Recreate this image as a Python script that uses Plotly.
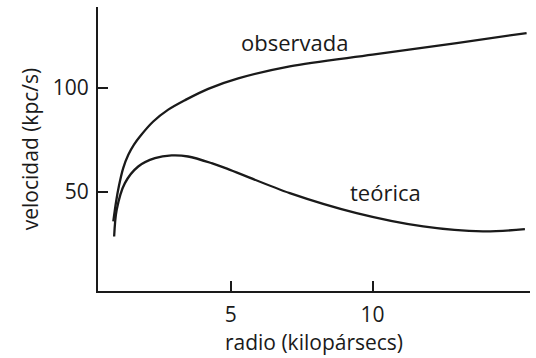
import plotly.graph_objects as go

# Data
obs_x = [0.85, 0.95, 1.05, 1.2, 1.38, 1.58, 1.79, 2.26, 2.79, 3.4, 4.2, 5.26, 7.08, 10.0, 12.97, 15.44]
obs_y = [35.9, 45.5, 53.0, 61.5, 67.9, 72.8, 76.7, 83.9, 89.6, 94.3, 99.6, 104.6, 110.4, 116.0, 121.6, 126.4]

teo_x = [0.88, 0.97, 1.26, 1.73, 2.32, 2.91, 3.49, 4.32, 4.97, 7.08, 9.44, 11.79, 13.9, 15.38]
teo_y = [28.7, 41.5, 54.3, 62.3, 66.3, 67.6, 67.1, 63.9, 60.7, 49.5, 39.9, 33.5, 31.1, 32.2]

x_ticks = [5, 10]
y_ticks = [50, 100]

labels = [("observada", 7.23, 122.3), ("teórica", 10.47, 50.1)]

FONT = "Open Sans"
INK = "#1a1a1a"

fig = go.Figure()
for xs, ys in [(obs_x, obs_y), (teo_x, teo_y)]:
    fig.add_trace(go.Scatter(
        x=xs, y=ys, mode="lines",
        line=dict(color=INK, width=2.3, shape="spline", smoothing=0.9),
        showlegend=False, hoverinfo="skip",
    ))

for text, lx, ly in labels:
    fig.add_annotation(x=lx, y=ly, text=text, showarrow=False,
                       font=dict(family=FONT, size=22, color=INK),
                       xanchor="center", yanchor="middle")

fig.update_layout(
    width=536, height=358,
    margin=dict(l=98, r=6, t=7, b=67),
    paper_bgcolor="white", plot_bgcolor="white",
    font=dict(family=FONT, size=21, color=INK),
    xaxis=dict(
        range=[0.31, 15.56], tickvals=x_ticks, ticktext=[str(v) for v in x_ticks],
        showgrid=False, zeroline=False, showline=True, linecolor=INK, linewidth=2,
        ticks="inside", ticklen=10, tickwidth=2, tickcolor=INK,
        title=dict(text="radio (kilopársecs)", standoff=0, font=dict(size=21)),
        ticklabelstandoff=4,
    ),
    yaxis=dict(
        range=[2.5, 138.9], tickvals=y_ticks, ticktext=[str(v) for v in y_ticks],
        showgrid=False, zeroline=False, showline=True, linecolor=INK, linewidth=2,
        ticks="inside", ticklen=10, tickwidth=2, tickcolor=INK,
        title=dict(text="velocidad (kpc/s)", standoff=8, font=dict(size=21)),
        ticklabelstandoff=3,
    ),
)

fig.write_html("out.html")
